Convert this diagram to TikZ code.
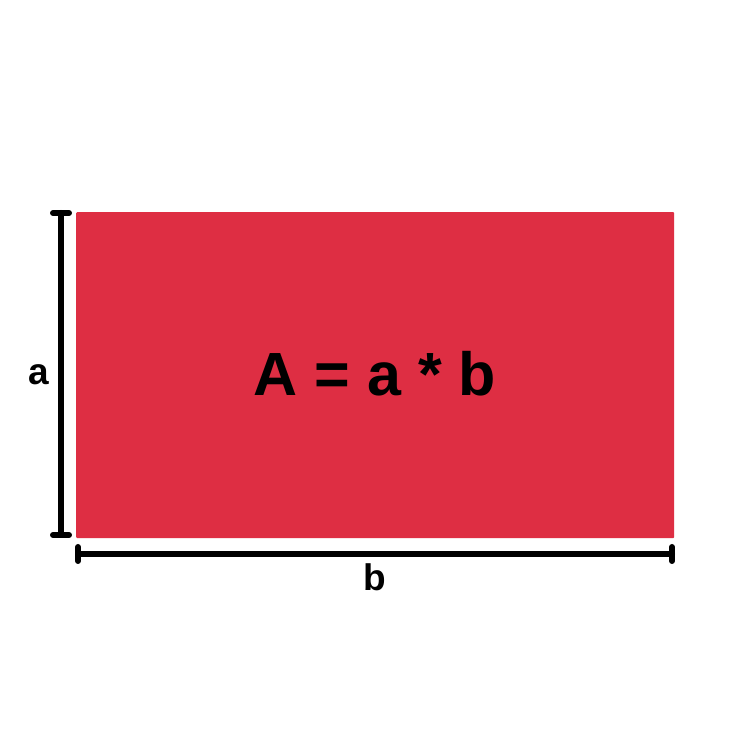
\documentclass[tikz,border=0pt]{standalone}
\usepackage{fontspec}
\setmainfont{Liberation Sans}
\definecolor{boxred}{HTML}{DE2E43}
\begin{document}
\begin{tikzpicture}[x=1pt,y=1pt,
  dim/.style={line width=6pt,line cap=round,black},
  lbl/.style={font=\bfseries\fontsize{37}{37}\selectfont,inner sep=0pt}]
\useasboundingbox (0,0) rectangle (750,750);
\fill[white] (0,0) rectangle (750,750);
\node[fill=boxred,minimum width=598pt,minimum height=326pt,inner sep=0pt,anchor=north west,rounded corners=1pt] (box) at (76,538) {};
\node[font=\bfseries\fontsize{61}{61}\selectfont,inner sep=0pt] (formula) at (375,376) {A = a * b};
% vertical dimension
\coordinate (vt) at (61,537);
\coordinate (vb) at (61,215);
\draw[dim] (vt) -- (vb);
\draw[dim] ([xshift=-8pt]vt) -- ([xshift=8pt]vt);
\draw[dim] ([xshift=-8pt]vb) -- ([xshift=8pt]vb);
\node[lbl] (la) at (39,375) {a};
% horizontal dimension
\coordinate (hl) at (78,196);
\coordinate (hr) at (672,196);
\draw[dim] (hl) -- (hr);
\draw[dim] ([yshift=-7pt]hl) -- ([yshift=7pt]hl);
\draw[dim] ([yshift=-7pt]hr) -- ([yshift=7pt]hr);
\node[lbl] (lb) at (375,173) {b};
\end{tikzpicture}
\end{document}
